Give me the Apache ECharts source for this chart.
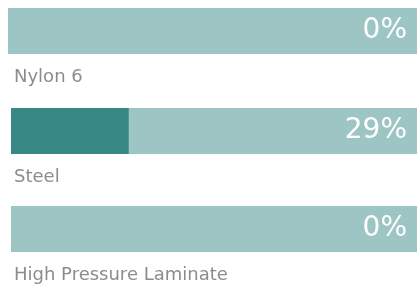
<!DOCTYPE html>
<html>
<head>
<meta charset="utf-8">
<script src="https://cdn.jsdelivr.net/npm/echarts@6/dist/echarts.min.js"></script>
<style>
  html, body { margin: 0; padding: 0; background: #fff; }
  #chart { width: 417px; height: 289px; }
</style>
</head>
<body>
<div id="chart"></div>
<script>
// materials and their share (%)
var categories = ["Nylon 6", "Steel", "High Pressure Laminate"];
var values = [0, 29, 0];
var fullValue = 100;

// layout per row
var rowLeft = [8, 11, 11];
var rowTop = [8, 108, 206];
var rowHeight = 46;

var chart = echarts.init(document.getElementById("chart"));

var grids = [], xAxes = [], yAxes = [], series = [];
categories.forEach(function (cat, i) {
  grids.push({ left: rowLeft[i], right: 0, top: rowTop[i], height: rowHeight });
  xAxes.push({ type: "value", gridIndex: i, min: 0, max: fullValue, show: false });
  yAxes.push({ type: "category", gridIndex: i, data: [cat], show: false });
  // light track with the percentage at its right end
  series.push({
    type: "bar",
    xAxisIndex: i,
    yAxisIndex: i,
    data: [fullValue],
    barWidth: rowHeight,
    silent: true,
    itemStyle: { color: "#9dc5c3" },
    label: {
      show: true,
      position: "insideRight",
      distance: 10,
      formatter: values[i] + "%",
      color: "#ffffff",
      fontFamily: "DejaVu Sans",
      fontSize: 28
    }
  });
  // dark fill with the material name below
  series.push({
    type: "bar",
    xAxisIndex: i,
    yAxisIndex: i,
    data: [values[i]],
    barWidth: rowHeight,
    barGap: "-100%",
    silent: true,
    itemStyle: { color: "#388885" },
    label: {
      show: true,
      position: [14 - rowLeft[i], 60],
      align: "left",
      verticalAlign: "top",
      formatter: cat,
      color: "#8c8c8c",
      fontFamily: "DejaVu Sans",
      fontSize: 18
    }
  });
});

var option = {
  animation: false,
  grid: grids,
  xAxis: xAxes,
  yAxis: yAxes,
  series: series
};

option && chart.setOption(option);
</script>
</body>
</html>
